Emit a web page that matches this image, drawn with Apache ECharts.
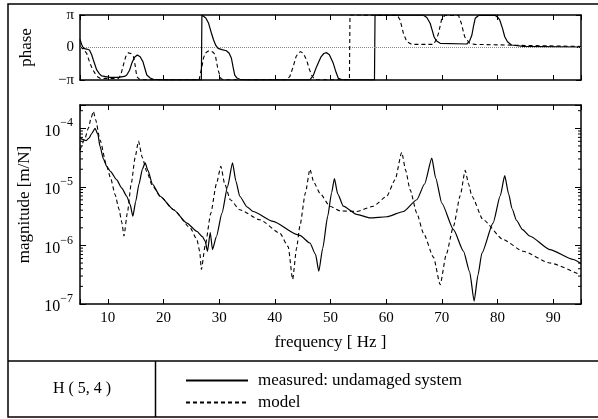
<!DOCTYPE html>
<html><head><meta charset="utf-8">
<script src="https://cdn.jsdelivr.net/npm/echarts@6/dist/echarts.min.js"></script>
<style>html,body{margin:0;padding:0;background:#fff}#chart{width:598px;height:419px}</style>
</head><body><div id="chart"></div>
<script>
// ---------- data ----------
const measuredMagFreq = [5.0,5.5,6.1,6.6,7.1,7.7,8.2,8.6,9.2,9.8,10.5,11.6,12.5,13.4,14.0,14.5,15.0,15.6,16.2,16.7,17.2,18.0,19.4,21.8,24.2,26.0,27.0,27.5,27.9,28.4,28.8,29.5,30.5,31.5,32.4,33.0,33.7,35.0,36.1,39.7,43.9,44.5,46.3,47.3,47.9,48.6,49.5,50.2,50.7,51.3,52.3,54.7,57.1,60.1,63.1,65.5,66.9,68.2,68.9,70.0,72.1,73.9,75.0,75.8,76.5,77.2,79.2,80.5,81.3,82.0,82.6,83.4,84.5,85.8,89.4,93.6,95.0];
const measuredMag = [6.92e-5,6.46e-5,6.17e-5,6.76e-5,8.13e-5,1.0e-4,7.94e-5,4.90e-5,3.02e-5,2.24e-5,1.82e-5,1.32e-5,9.55e-6,6.92e-6,5.01e-6,3.16e-6,5.62e-6,1.12e-5,2.0e-5,2.57e-5,1.91e-5,1.12e-5,6.92e-6,4.07e-6,2.40e-6,1.74e-6,1.41e-6,1.17e-6,7.94e-7,1.66e-6,8.51e-7,1.41e-6,3.55e-6,1.0e-5,2.57e-5,1.26e-5,6.92e-6,4.57e-6,3.80e-6,2.57e-6,1.55e-6,1.48e-6,1.10e-6,7.08e-7,3.63e-7,8.91e-7,3.16e-6,7.94e-6,1.38e-5,7.59e-6,4.68e-6,3.39e-6,2.95e-6,3.09e-6,3.80e-6,6.03e-6,1.12e-5,3.09e-5,1.41e-5,5.25e-6,1.86e-6,7.94e-7,3.55e-7,1.12e-7,3.16e-7,7.41e-7,2.40e-6,7.08e-6,1.55e-5,7.59e-6,4.27e-6,2.69e-6,1.86e-6,1.45e-6,8.51e-7,5.75e-7,4.90e-7];

const modelMagFreq = [5.0,5.8,6.5,7.0,7.4,7.8,8.6,9.8,10.5,11.3,12.0,12.5,12.9,13.5,14.2,14.9,15.5,16.2,17.0,18.0,19.4,21.8,24.8,26.0,26.5,26.8,27.5,28.5,29.5,30.3,31.0,32.0,33.7,37.3,40.9,42.4,43.2,43.9,44.5,45.5,46.3,47.0,48.1,49.9,51.7,54.7,57.7,60.1,61.6,62.8,63.5,64.3,65.5,66.7,68.5,69.7,70.8,72.1,73.3,74.2,74.8,75.4,77.4,81.0,84.6,89.4,95.0];
const modelMag = [4.27e-5,6.31e-5,1.0e-4,1.51e-4,1.95e-4,1.41e-4,6.31e-5,2.24e-5,1.41e-5,7.41e-6,4.17e-6,2.51e-6,1.45e-6,3.55e-6,1.12e-5,3.16e-5,6.03e-5,3.16e-5,1.82e-5,1.05e-5,6.92e-6,4.07e-6,2.0e-6,1.26e-6,7.94e-7,3.89e-7,1.0e-6,3.55e-6,1.12e-5,2.24e-5,1.12e-5,6.03e-6,4.07e-6,2.75e-6,1.62e-6,9.55e-7,2.63e-7,8.91e-7,2.14e-6,7.94e-6,2.0e-5,1.20e-5,7.76e-6,4.68e-6,3.89e-6,3.80e-6,4.68e-6,6.92e-6,1.32e-5,3.89e-5,1.91e-5,8.91e-6,3.55e-6,1.62e-6,6.31e-7,2.14e-7,7.08e-7,2.14e-6,7.08e-6,1.91e-5,1.12e-5,6.92e-6,2.75e-6,1.26e-6,7.94e-7,5.01e-7,3.09e-7];

const measuredPhaseFreq = [5.0,5.3,5.6,6.2,6.7,7.1,7.4,8.0,8.5,8.9,10.4,11.9,13.0,13.4,13.9,14.3,14.8,15.3,15.8,16.3,16.7,17.0,17.6,18.2,20.0,26.8,26.9,27.2,27.6,28.1,28.6,29.0,29.4,29.8,30.5,31.3,31.8,32.2,32.5,32.8,33.2,33.7,35.0,46.3,46.9,47.5,48.3,48.8,49.3,49.8,50.5,51.0,51.4,52.0,57.9,58.0,66.7,67.3,67.9,68.3,68.6,69.0,69.7,74.5,75.0,75.4,75.7,76.0,76.6,79.6,80.0,80.4,80.9,81.3,81.8,82.5,84.6,95.0];
const measuredPhase = [0.79,0.30,-0.08,-0.15,-0.24,-0.70,-1.21,-2.17,-2.55,-2.75,-2.88,-2.88,-2.80,-2.66,-2.20,-1.53,-0.95,-0.72,-0.90,-1.37,-2.10,-2.66,-2.95,-3.07,-3.12,-3.12,3.14,3.10,2.85,2.34,1.40,0.72,0.20,-0.08,-0.20,-0.31,-0.55,-1.04,-1.90,-2.66,-2.95,-3.07,-3.12,-3.12,-2.70,-1.85,-0.90,-0.58,-0.50,-0.70,-1.53,-2.40,-2.98,-3.10,-3.12,3.14,3.12,2.90,2.34,1.60,1.04,0.65,0.40,0.34,0.65,1.21,2.10,2.82,3.10,3.10,2.95,2.66,1.85,1.04,0.55,0.24,0.10,0.05];

const modelPhaseFreq = [5.0,5.6,6.2,6.8,7.3,7.7,8.2,8.6,11.9,12.3,12.8,13.2,13.7,14.2,14.6,14.9,15.2,15.8,26.4,26.9,27.2,27.5,28.0,28.4,28.9,29.3,29.8,30.3,30.8,42.1,42.7,43.3,43.8,44.2,44.6,45.1,45.7,46.2,46.6,47.1,47.6,53.4,53.5,62.0,62.5,63.1,63.7,64.6,68.5,69.0,69.4,70.0,70.6,73.0,73.5,74.1,75.0,76.0,85.0,95.0];
const modelPhase = [0.08,-0.15,-0.56,-1.53,-2.15,-2.50,-2.85,-2.98,-2.98,-2.70,-1.69,-0.90,-0.50,-0.60,-0.89,-1.70,-2.82,-3.12,-3.12,-1.85,-1.00,-0.56,-0.35,-0.31,-0.45,-0.72,-2.17,-3.00,-3.12,-3.12,-2.80,-1.85,-0.90,-0.56,-0.40,-0.55,-1.21,-2.10,-2.66,-3.07,-3.12,-3.12,3.14,3.12,2.66,1.37,0.56,0.30,0.30,0.75,1.37,2.82,3.10,3.10,2.34,1.04,0.40,0.30,0.20,0.10];

const seriesNames = ['measured: undamaged system', 'model'];
const cellLabel = 'H ( 5, 4 )';
const freqRange = [5, 95];
const magRange = [1e-7, 2.5e-4];

// ---------- helpers ----------
const zip = (xs, ys) => xs.map((x, i) => [x, ys[i]]);
const FONT = "'Liberation Serif', 'Times New Roman', serif";
const minorTickValues = [];
for (let e = -7; e <= -4; e++) for (let k = 2; k <= 9; k++) {
  const v = k * Math.pow(10, e);
  if (v <= magRange[1]) minorTickValues.push([freqRange[0], v]);
}

const axisLine = { show: true, onZero: false, lineStyle: { color: '#000', width: 1.5 } };
const tickIn = { show: true, inside: true, length: 5, lineStyle: { color: '#000', width: 1 } };

function xAx(gridIndex, position, labels) {
  return {
    type: 'value', gridIndex, position, min: freqRange[0], max: freqRange[1], splitNumber: 9,
    axisLine, axisTick: tickIn, splitLine: { show: false },
    axisLabel: labels ? {
      show: true, margin: 7, color: '#000', fontFamily: FONT, fontSize: 15,
      formatter: v => (Math.abs(v % 10) < 1e-9 ? String(v) : '')
    } : { show: false }
  };
}
function phaseY(position, labels) {
  return {
    type: 'value', gridIndex: 0, position, min: -Math.PI, max: Math.PI, interval: Math.PI,
    axisLine, axisTick: tickIn, splitLine: { show: false },
    name: labels ? 'phase' : '', nameLocation: 'middle', nameGap: 45,
    nameTextStyle: { color: '#000', fontFamily: FONT, fontSize: 17 },
    axisLabel: labels ? {
      show: true, margin: 6, color: '#000', fontFamily: FONT, fontSize: 15,
      formatter: v => (Math.abs(v) < 1e-9 ? '0' : (v > 0 ? 'π' : '−π'))
    } : { show: false }
  };
}
function magY(position, labels) {
  return {
    type: 'log', logBase: 10, gridIndex: 1, position, min: magRange[0], max: magRange[1],
    axisLine, axisTick: { show: true, inside: true, length: 6, lineStyle: { color: '#000', width: 1 } },
    splitLine: { show: false },
    name: labels ? 'magnitude [m/N]' : '', nameLocation: 'middle', nameGap: 45,
    nameTextStyle: { color: '#000', fontFamily: FONT, fontSize: 17 },
    axisLabel: labels ? {
      show: true, margin: 7, color: '#000',
      formatter: v => {
        const l = Math.log10(v), e = Math.round(l);
        if (Math.abs(l - e) > 1e-6) return '';
        return '{b|10}{s|' + (e < 0 ? '−' : '') + Math.abs(e) + '}';
      },
      rich: {
        b: { fontFamily: FONT, fontSize: 16, color: '#000', lineHeight: 22, verticalAlign: 'bottom' },
        s: { fontFamily: FONT, fontSize: 12, color: '#000', lineHeight: 22, verticalAlign: 'top' }
      }
    } : { show: false }
  };
}

const solid = { color: '#000', width: 1.2, type: 'solid' };
const dashed = { color: '#000', width: 1.1, type: [4, 3] };
const lineBase = { type: 'line', symbol: 'none', color: '#000', smooth: 0.2, smoothMonotone: 'x' };

const chart = echarts.init(document.getElementById('chart'), null, { renderer: 'canvas' });
chart.setOption({
  animation: false,
  backgroundColor: '#fff',
  grid: [
    { left: 80, top: 15, width: 501, height: 65 },
    { left: 80, top: 105, width: 501, height: 199 }
  ],
  xAxis: [
    xAx(0, 'bottom', false),
    xAx(0, 'top', false),
    Object.assign(xAx(1, 'bottom', true), {
      name: 'frequency [ Hz ]', nameLocation: 'middle', nameGap: 30,
      nameTextStyle: { color: '#000', fontFamily: FONT, fontSize: 17 }
    }),
    xAx(1, 'top', false)
  ],
  yAxis: [phaseY('left', true), phaseY('right', false), magY('left', true), magY('right', false)],
  legend: {
    data: seriesNames, orient: 'vertical', left: 185, top: 372,
    itemWidth: 62, itemHeight: 12, itemGap: 5, selectedMode: false, padding: 0,
    itemStyle: { opacity: 0 },
    textStyle: { color: '#000', fontFamily: FONT, fontSize: 17, padding: [0, 0, 0, 5] }
  },
  series: [
    Object.assign({}, lineBase, {
      name: seriesNames[0], xAxisIndex: 0, yAxisIndex: 0, smooth: false,
      lineStyle: solid, data: zip(measuredPhaseFreq, measuredPhase), z: 3,
      markLine: { silent: true, symbol: 'none', label: { show: false },
        lineStyle: { type: 'dotted', color: '#888', width: 1 }, data: [{ yAxis: 0 }] }
    }),
    Object.assign({}, lineBase, { name: seriesNames[1], xAxisIndex: 0, yAxisIndex: 0, smooth: false,
      lineStyle: dashed, data: zip(modelPhaseFreq, modelPhase), z: 2 }),
    Object.assign({}, lineBase, { name: seriesNames[0], xAxisIndex: 2, yAxisIndex: 2,
      lineStyle: solid, data: zip(measuredMagFreq, measuredMag), z: 3 }),
    Object.assign({}, lineBase, { name: seriesNames[1], xAxisIndex: 2, yAxisIndex: 2,
      lineStyle: dashed, data: zip(modelMagFreq, modelMag), z: 2 }),
    {
      type: 'custom', xAxisIndex: 2, yAxisIndex: 2, silent: true, encode: { x: 0, y: 1 },
      data: minorTickValues,
      renderItem: (params, api) => {
        const cs = params.coordSys;
        const y = api.coord([api.value(0), api.value(1)])[1];
        return { type: 'group', children: [
          { type: 'line', shape: { x1: cs.x, y1: y, x2: cs.x + 3, y2: y }, style: { stroke: '#000', lineWidth: 1 } },
          { type: 'line', shape: { x1: cs.x + cs.width - 3, y1: y, x2: cs.x + cs.width, y2: y }, style: { stroke: '#000', lineWidth: 1 } }
        ] };
      }
    }
  ],
  graphic: [
    { type: 'rect', silent: true, shape: { x: 8, y: 4, width: 620, height: 413 },
      style: { fill: 'none', stroke: '#000', lineWidth: 1.5 } },
    { type: 'line', silent: true, shape: { x1: 8, y1: 361, x2: 598, y2: 361 },
      style: { stroke: '#000', lineWidth: 1.5 } },
    { type: 'line', silent: true, shape: { x1: 155.5, y1: 361, x2: 155.5, y2: 417 },
      style: { stroke: '#000', lineWidth: 1.5 } },
    { type: 'text', silent: true, x: 82, y: 389,
      style: { text: cellLabel, fill: '#000', font: '16px ' + FONT, textAlign: 'center', textVerticalAlign: 'middle' } }
  ]
});
</script>
</body></html>
